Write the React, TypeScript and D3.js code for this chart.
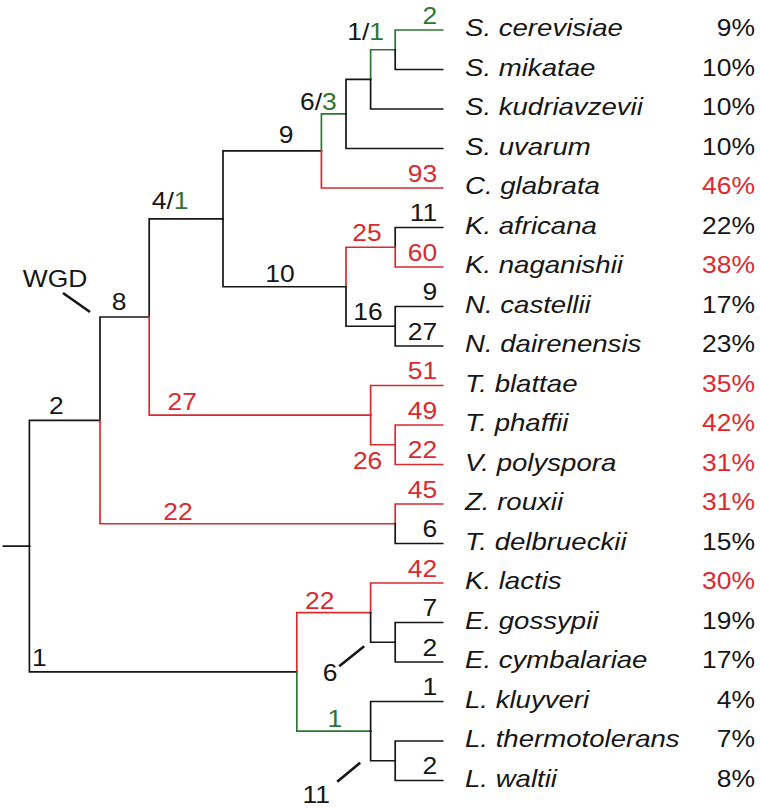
import React from "react";
import * as d3 from "d3";

// ---------- data ----------
const species = [
  "S. cerevisiae", "S. mikatae", "S. kudriavzevii", "S. uvarum", "C. glabrata",
  "K. africana", "K. naganishii", "N. castellii", "N. dairenensis", "T. blattae",
  "T. phaffii", "V. polyspora", "Z. rouxii", "T. delbrueckii", "K. lactis",
  "E. gossypii", "E. cymbalariae", "L. kluyveri", "L. thermotolerans", "L. waltii",
];
const percents = [9, 10, 10, 10, 46, 22, 38, 17, 23, 35, 42, 31, 31, 15, 30, 19, 17, 4, 7, 8];

// branch class: k = black, r = red, g = green
type Part = [string, string];
interface TNode { id: string; c?: string; lab?: Part[]; children?: TNode[] }
const leaf = (i: number, c: string, lab?: Part[]): TNode => ({ id: species[i], c, lab });

const tree: TNode = {
  id: "root", c: "k", children: [
    { id: "N1", c: "k", lab: [["2", "k"]], children: [
      { id: "N2", c: "k", lab: [["8", "k"]], children: [
        { id: "N3", c: "k", lab: [["4/", "k"], ["1", "g"]], children: [
          { id: "D", c: "k", lab: [["9", "k"]], children: [
            { id: "C", c: "g", lab: [["6/", "k"], ["3", "g"]], children: [
              { id: "B", c: "k", children: [
                { id: "A", c: "g", lab: [["1/", "k"], ["1", "g"]], children: [
                  leaf(0, "g", [["2", "g"]]),
                  leaf(1, "k"),
                ] },
                leaf(2, "k"),
              ] },
              leaf(3, "k"),
            ] },
            leaf(4, "r", [["93", "r"]]),
          ] },
          { id: "E", c: "k", lab: [["10", "k"]], children: [
            { id: "F", c: "r", lab: [["25", "r"]], children: [
              leaf(5, "k", [["11", "k"]]),
              leaf(6, "r", [["60", "r"]]),
            ] },
            { id: "G", c: "k", lab: [["16", "k"]], children: [
              leaf(7, "k", [["9", "k"]]),
              leaf(8, "k", [["27", "k"]]),
            ] },
          ] },
        ] },
        { id: "H", c: "r", lab: [["27", "r"]], children: [
          leaf(9, "r", [["51", "r"]]),
          { id: "I", c: "r", lab: [["26", "r"]], children: [
            leaf(10, "r", [["49", "r"]]),
            leaf(11, "r", [["22", "r"]]),
          ] },
        ] },
      ] },
      { id: "J", c: "r", lab: [["22", "r"]], children: [
        leaf(12, "r", [["45", "r"]]),
        leaf(13, "k", [["6", "k"]]),
      ] },
    ] },
    { id: "K", c: "k", lab: [["1", "k"]], children: [
      { id: "L", c: "r", lab: [["22", "r"]], children: [
        leaf(14, "r", [["42", "r"]]),
        { id: "N", c: "k", lab: [["6", "k"]], children: [
          leaf(15, "k", [["7", "k"]]),
          leaf(16, "k", [["2", "k"]]),
        ] },
      ] },
      { id: "M", c: "g", lab: [["1", "g"]], children: [
        leaf(17, "k", [["1", "k"]]),
        { id: "O", c: "k", lab: [["11", "k"]], children: [
          leaf(18, "k"),
          leaf(19, "k", [["2", "k"]]),
        ] },
      ] },
    ] },
  ],
};

// node depth levels of the drawn cladogram
const levels: Record<string, number> = {
  root: -2.87, N1: 0, N2: 2, N3: 5, D: 9, C: 10, B: 11, A: 12, E: 10, F: 12, G: 12,
  H: 11, I: 12, J: 12, K: 8, L: 11, N: 12, M: 11, O: 12,
};
const LEAF_LEVEL = 13.93;

// ---------- styles / layout ----------
const COLORS: Record<string, string> = { k: "#161616", r: "#da2a2f", g: "#2e7433" };
const FONT = "'Liberation Sans', Arial, Helvetica, sans-serif";
const FS = 23;
const SX = 1.15;
const SX_ITALIC = 1.2;
const SW = 1.7;

// internal-label placement: dx from parent x to label centre, dy from branch y to baseline
const labelPlace: Record<string, { dx: number; dy: number; ref?: "child" }> = {
  N1: { dx: 27, dy: -6 },
  N2: { dx: 19, dy: -7 },
  N3: { dx: 21, dy: -10 },
  D: { dx: 63, dy: -8 },
  C: { dx: -3, dy: -4 },
  A: { dx: -5, dy: -10 },
  E: { dx: 57, dy: -5 },
  F: { dx: 21, dy: -6 },
  G: { dx: 22, dy: -6 },
  H: { dx: 33, dy: -5 },
  I: { dx: -3, dy: 24 },
  J: { dx: 78, dy: -4 },
  K: { dx: 10, dy: -6 },
  L: { dx: 23, dy: -4 },
  M: { dx: 38, dy: -4 },
  N: { dx: -65, dy: 39, ref: "child" },
  O: { dx: -79, dy: 42, ref: "child" },
};
const ticks: Record<string, [number, number, number, number]> = {
  N: [-56, 24, -31, 4],
  O: [-58, 21, -35, 2],
};

function Label({ x, y, anchor, parts, italic }: { x: number; y: number; anchor: string; parts: Part[]; italic?: boolean }) {
  return (
    <text
      transform={`translate(${x},${y}) scale(${italic ? SX_ITALIC : SX},1)`}
      textAnchor={anchor}
      fontFamily={FONT}
      fontSize={FS}
      fontStyle={italic ? "italic" : "normal"}
    >
      {parts.map((p, i) => (
        <tspan key={i} fill={COLORS[p[1]]}>{p[0]}</tspan>
      ))}
    </text>
  );
}

export default function App() {
  const W = 760, H = 808;
  const x = d3.scaleLinear().domain([0, 12]).range([100, 395.2]);
  const y = d3.scaleLinear().domain([0, species.length - 1]).range([30, 780.5]);

  const root = d3.hierarchy<TNode>(tree);
  const pos = new Map<d3.HierarchyNode<TNode>, { px: number; py: number }>();
  // post-order: y = mean of children (leaves by index)
  root.eachAfter((n) => {
    const px = n.children ? x(levels[n.data.id]) : x(LEAF_LEVEL);
    let py: number;
    if (!n.children) py = y(species.indexOf(n.data.id));
    else py = d3.mean(n.children, (c) => pos.get(c)!.py)!;
    pos.set(n, { px, py });
  });

  const nodes = root.descendants();
  const leaves = root.leaves();
  const rp = pos.get(root)!;

  const edges = nodes.filter((n) => n.parent).map((n) => {
    const p = pos.get(n.parent!)!;
    const c = pos.get(n)!;
    const path = d3.path();
    path.moveTo(p.px, p.py);
    path.lineTo(p.px, c.py);
    path.lineTo(c.px, c.py);
    return { key: n.data.id, d: path.toString(), color: COLORS[n.data.c || "k"] };
  });

  const labels = nodes.filter((n) => n.parent && n.data.lab).map((n) => {
    const p = pos.get(n.parent!)!;
    const c = pos.get(n)!;
    if (!n.children) {
      return { key: n.data.id, x: c.px - 5.5, y: c.py - 6.5, anchor: "end", parts: n.data.lab! };
    }
    const lp = labelPlace[n.data.id];
    const bx = lp.ref === "child" ? c.px : p.px;
    return { key: n.data.id, x: bx + lp.dx, y: c.py + lp.dy, anchor: "middle", parts: n.data.lab! };
  });

  const tickLines = nodes.filter((n) => ticks[n.data.id]).map((n) => {
    const c = pos.get(n)!;
    const t = ticks[n.data.id];
    return { key: n.data.id, x1: c.px + t[0], y1: c.py + t[1], x2: c.px + t[2], y2: c.py + t[3] };
  });

  // WGD marker on the branch leading to N2
  const n1 = nodes.find((n) => n.data.id === "N1")!;
  const n2 = nodes.find((n) => n.data.id === "N2")!;
  const wx = pos.get(n1)!.px, wy = pos.get(n2)!.py;

  return (
    <svg width={W} height={H} style={{ position: "absolute", left: 0, top: 0, background: "#fff" }}>
      <g fill="none" strokeWidth={SW} strokeLinecap="square">
        <path d={`M${rp.px - 26},${rp.py}H${rp.px}`} stroke={COLORS.k} />
        {edges.map((e) => (
          <path key={e.key} d={e.d} stroke={e.color} />
        ))}
      </g>
      {tickLines.map((t) => (
        <line key={t.key} x1={t.x1} y1={t.y1} x2={t.x2} y2={t.y2} stroke={COLORS.k} strokeWidth={2.6} />
      ))}
      <line x1={wx - 37} y1={wy - 24} x2={wx - 10} y2={wy - 5} stroke={COLORS.k} strokeWidth={2.6} />
      <Label x={wx - 45} y={wy - 30} anchor="middle" parts={[["WGD", "k"]]} />
      {labels.map((l) => (
        <Label key={l.key} x={l.x} y={l.y} anchor={l.anchor} parts={l.parts} />
      ))}
      {leaves.map((n) => {
        const c = pos.get(n)!;
        const i = species.indexOf(n.data.id);
        const col = n.data.c === "r" ? "r" : "k";
        return (
          <g key={n.data.id}>
            <Label x={465} y={c.py + 6} anchor="start" parts={[[species[i], "k"]]} italic />
            <Label x={755} y={c.py + 6} anchor="end" parts={[[percents[i] + "%", col]]} />
          </g>
        );
      })}
    </svg>
  );
}
